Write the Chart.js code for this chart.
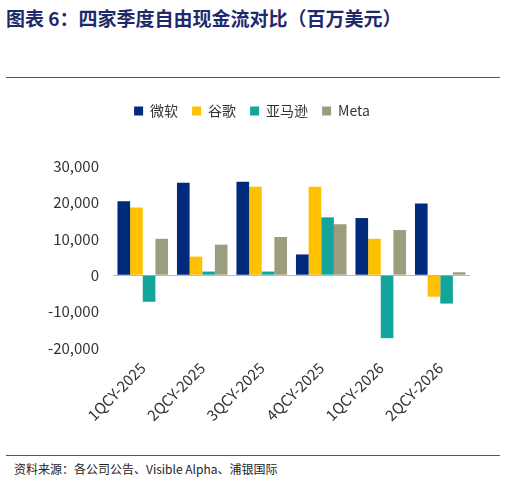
<!DOCTYPE html>
<html>
<head>
<meta charset="utf-8">
<script src="https://cdn.jsdelivr.net/npm/chart.js@4/dist/chart.umd.min.js"></script>
<style>
  body { margin: 0; width: 506px; height: 482px; background: #fff; font-family: "Noto Sans CJK SC", sans-serif; position: relative; overflow: hidden; }
  #title { position: absolute; left: 6px; top: 4px; font-size: 19px; font-weight: bold; color: #1f2a6b; }
  #topline { position: absolute; left: 6px; right: 6px; top: 77px; border-top: 1.5px solid #555; }
  #box { position: absolute; left: 6px; top: 90px; width: 494px; height: 362px; }
  #botline { position: absolute; left: 6px; right: 6px; top: 455px; border-top: 1px solid #555; }
  #src { position: absolute; left: 14px; top: 460px; font-size: 12px; color: #222; }
</style>
</head>
<body>
<div id="title">图表 6：四家季度自由现金流对比（百万美元）</div>
<div id="topline"></div>
<div id="box"><canvas id="c"></canvas></div>
<div id="botline"></div>
<div id="src">资料来源：各公司公告、Visible Alpha、浦银国际</div>
<script>
const categories = ['1QCY-2025', '2QCY-2025', '3QCY-2025', '4QCY-2025', '1QCY-2026', '2QCY-2026'];
const microsoft = [20300, 25400, 25700, 5700, 15700, 19700];
const google = [18600, 5100, 24300, 24300, 10000, -5900];
const amazon = [-7300, 1000, 1000, 15900, -17300, -7800];
const meta = [10000, 8400, 10500, 14000, 12400, 800];
const yTicks = [-20000, -10000, 0, 10000, 20000, 30000];

const ctx = document.getElementById('c').getContext('2d');
new Chart(ctx, {
    type: 'bar',
    data: {
        labels: categories,
        datasets: [
            { label: '微软', data: microsoft, backgroundColor: '#002a7c' },
            { label: '谷歌', data: google, backgroundColor: '#ffc000' },
            { label: '亚马逊', data: amazon, backgroundColor: '#13a59c' },
            { label: 'Meta', data: meta, backgroundColor: '#9c9c7e' }
        ]
    },
    options: {
        responsive: true,
        maintainAspectRatio: false,
        animation: false,
        layout: { padding: { left: 28, right: 30, top: 0, bottom: 4 } },
        datasets: { bar: { categoryPercentage: 0.85, barPercentage: 1.0 } },
        plugins: {
            legend: {
                labels: { color: '#333', boxWidth: 9, boxHeight: 9, padding: 14, font: { size: 14, family: 'Noto Sans CJK SC' } }
            },
            tooltip: { enabled: false }
        },
        scales: {
            x: {
                grid: { display: false },
                border: { display: false },
                afterFit: s => { s.height = 100; },
                ticks: { color: '#333', maxRotation: 45, minRotation: 45, font: { size: 15, family: 'Noto Sans CJK SC' } }
            },
            y: {
                min: -20000, max: 30000,
                afterBuildTicks: axis => { axis.ticks = yTicks.map(v => ({ value: v })); },
                grid: {
                    drawTicks: false,
                    color: c => c.tick.value === 0 ? '#bbb' : 'transparent'
                },
                border: { display: false },
                ticks: { color: '#333', padding: 14, font: { size: 15, family: 'Noto Sans CJK SC' }, callback: v => v.toLocaleString('en-US') }
            }
        }
    },
    plugins: [{
        id: 'legendGap',
        beforeInit(chart) {
            const fit = chart.legend.fit;
            chart.legend.fit = function () { fit.bind(chart.legend)(); this.height += 38; };
        }
    }]
});
</script>
</body>
</html>
